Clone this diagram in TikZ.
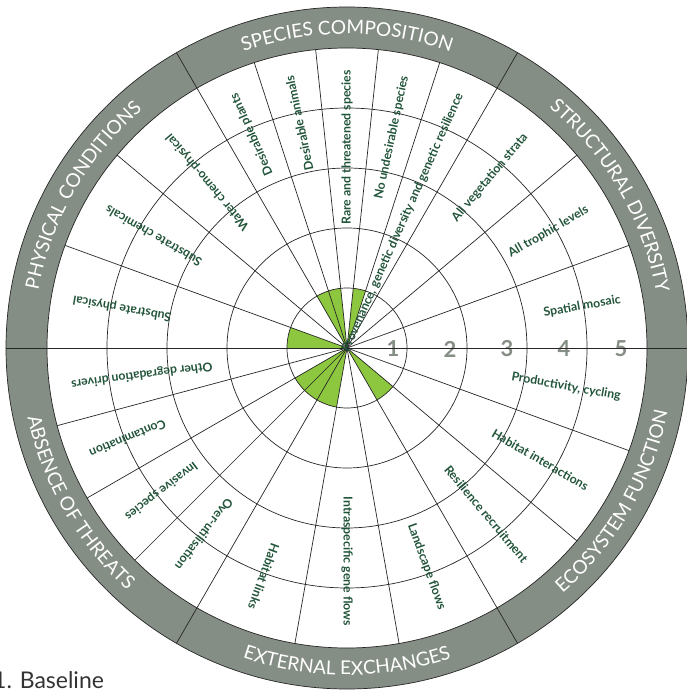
\documentclass[tikz,border=0pt]{standalone}
\usepackage{fontspec}
\setmainfont{Lato}
\usetikzlibrary{decorations.text}

\definecolor{bandgrey}{HTML}{858E85}
\definecolor{valuegreen}{HTML}{8DC63F}
\definecolor{labelgreen}{HTML}{22543A}

\begin{document}
\begin{tikzpicture}[x = 1pt, y = 1pt,
		indicator/.style = {anchor = east, inner sep = 0pt, text = labelgreen, font = \fontsize{12.3}{12.3}\selectfont\bfseries},
		spoke/.style = {line width = 0.7pt, black!85},
		bandtext/.style = {decorate, decoration = {text along path, text align = center, text = {|\color{white}\fontsize{19}{19}\selectfont|#1}}}
	]

			\useasboundingbox (-347,-345) rectangle (339,348);

			\fill[bandgrey, even odd rule] (0,0) circle[radius = 341] (0,0) circle[radius = 300];

			\foreach \from/\to in {96/120, 72/84, 160/180, 210/260, -60/-40}
			{
				\fill[valuegreen] (0,0) -- (\from:60) arc[start angle = \from, end angle = \to, radius = 60] -- cycle;
			}

			\foreach \k in {1,...,5}
			{
				\node[text = bandgrey, font = \fontsize{22}{22}\selectfont\bfseries, inner sep = 0pt] (num\k) at ({46 + 57*(\k - 1)}, -1) {\k};
			}

			\foreach \r in {60, 120, ..., 300}
			{
				\draw[spoke] (0,0) circle[radius = \r];
			}
			\draw[spoke] (0,0) circle[radius = 341];

			\foreach \a in {72, 84, 96, 108, 20, 40, -20, -40, -80, -100, 195, 210, 225, 140, 160}
			{
				\draw[spoke] (0,0) -- (\a:300);
			}
			\foreach \a in {0, 60, ..., 300}
			{
				\draw[spoke] (0,0) -- (\a:341);
			}

			\foreach \a/\txt [count = \i] in {114/Desirable plants, 102/Desirable animals, 90/Rare and threatened species,
				78/No undesirable species, 66/{Provenance, genetic diversity and genetic resilience},
				50/All vegetation strata, 30/All trophic levels, 10/Spatial mosaic,
				-10/{Productivity, cycling}, -30/Habitat interactions, -50/Resilience recruitment,
				-70/Landscape flows, -90/Intraspecific gene flows, -110/Habitat links,
				187.5/Other degradation drivers, 202.5/Contamination, 217.5/Invasive species, 232.5/Over-utilisation,
				130/Water chemo-physical, 150/Substrate chemicals, 170/Substrate physical}
			{
				\node[indicator, rotate = \a] (ind\i) at (\a:278) {\txt};
			}

			\path[bandtext = SPECIES COMPOSITION] (120:314) arc[start angle = 120, end angle = 60, radius = 314];
			\path[bandtext = STRUCTURAL DIVERSITY] (60:314) arc[start angle = 60, end angle = 0, radius = 314];
			\path[bandtext = PHYSICAL CONDITIONS] (180:314) arc[start angle = 180, end angle = 120, radius = 314];
			\path[bandtext = ABSENCE OF THREATS] (180:327) arc[start angle = 180, end angle = 240, radius = 327];
			\path[bandtext = EXTERNAL EXCHANGES] (240:327) arc[start angle = 240, end angle = 300, radius = 327];
			\path[bandtext = ECOSYSTEM FUNCTION] (300:327) arc[start angle = 300, end angle = 360, radius = 327];

			\node[anchor = base west, font = \fontsize{23}{23}\selectfont, text = black!80, inner sep = 0pt] (caption) at (-354,-340) {1. Baseline};
		\end{tikzpicture}
\end{document}
